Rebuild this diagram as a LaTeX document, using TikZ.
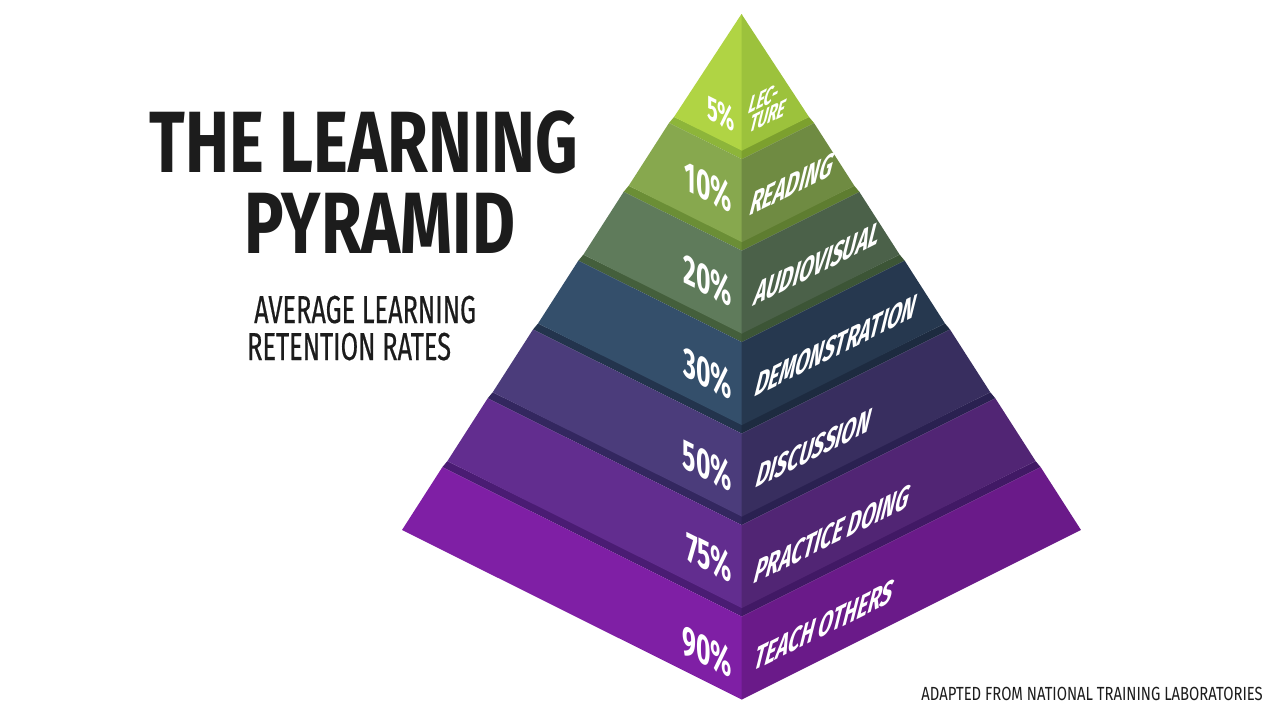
\documentclass[tikz,border=0pt]{standalone}
\usepackage{fontspec}
\newfontfamily\titlefont[FakeStretch=0.76]{Fira Sans}
\newfontfamily\labfont[FakeStretch=0.59]{Fira Sans}
\newfontfamily\subfont[FakeStretch=0.65,FakeBold=0.4]{Fira Sans}
\newfontfamily\srcfont[FakeStretch=0.78]{Fira Sans}
\definecolor{ink}{HTML}{1C1C1C}
\definecolor{LAl}{HTML}{B0D444}\definecolor{LAr}{HTML}{9CC23C}
\definecolor{LBl}{HTML}{87A84E}\definecolor{LBr}{HTML}{6F8B42}
\definecolor{LCl}{HTML}{5F7B5B}\definecolor{LCr}{HTML}{4B6149}
\definecolor{LDl}{HTML}{344F6B}\definecolor{LDr}{HTML}{26384F}
\definecolor{LEl}{HTML}{4B3C7B}\definecolor{LEr}{HTML}{382E5F}
\definecolor{LFl}{HTML}{622D8F}\definecolor{LFr}{HTML}{512574}
\definecolor{LGl}{HTML}{7F1FA5}\definecolor{LGr}{HTML}{6A1A89}
\definecolor{GBl}{HTML}{8DB53A}\definecolor{GBr}{HTML}{7CA02E}
\definecolor{GCl}{HTML}{6B8E36}\definecolor{GCr}{HTML}{5E7D30}
\definecolor{GDl}{HTML}{445F3C}\definecolor{GDr}{HTML}{3C5536}
\definecolor{GEl}{HTML}{23344D}\definecolor{GEr}{HTML}{1D2B40}
\definecolor{GFl}{HTML}{33275F}\definecolor{GFr}{HTML}{2A2151}
\definecolor{GGl}{HTML}{4A1C73}\definecolor{GGr}{HTML}{411965}
\newcommand\pyrlayer[5]{%
  \pgfmathsetmacro\pyYb{117+(#1-1)*68.83}%
  \pgfmathsetmacro\pyRb{67.5+(#1-1)*45.33}%
  \pgfmathsetmacro\pyYbc{\pyYb+0.5*\pyRb}%
  \pgfmathsetmacro\pyYt{\pyYb-62.83}%
  \pgfmathsetmacro\pyRt{\pyRb-40.33}%
  \pgfmathsetmacro\pyYtc{\pyYt+0.5*\pyRt}%
  \pgfmathsetmacro\pyYu{\pyYb-68.83}%
  \pgfmathsetmacro\pyRu{\pyRb-45.33}%
  \pgfmathsetmacro\pyYuc{\pyYu+0.5*\pyRu}%
  \fill[#4] (741.5-\pyRt,\pyYt) -- (742.2,\pyYtc) -- (742.2,\pyYuc-2) -- (741.5-\pyRu,\pyYu) -- cycle;
  \fill[#5] (741.5,\pyYtc) -- (741.5+\pyRt,\pyYt) -- (741.5+\pyRu,\pyYu) -- (741.5,\pyYuc-2) -- cycle;
  \fill[#2] (741.5-\pyRt,\pyYt) -- (742.2,\pyYtc) -- (742.2,\pyYbc) -- (741.5-\pyRb,\pyYb) -- cycle;
  \fill[#3] (741.5,\pyYtc) -- (741.5+\pyRt,\pyYt) -- (741.5+\pyRb,\pyYb) -- (741.5,\pyYbc) -- cycle;
}
\tikzset{
  lnum/.style={font=\labfont\bfseries\fontsize{42}{42}\selectfont, text=white, yslant=-0.5, anchor=base east, inner sep=0pt},
  rlab/.style={font=\labfont\bfseries\fontsize{35}{35}\selectfont, text=white, cm={1,0.5,0.25,1,(0,0)}, anchor=base west, inner sep=0pt},
  title/.style={font=\titlefont\bfseries\fontsize{87}{87}\selectfont, text=ink, anchor=base, inner sep=0pt},
  subt/.style={font=\subfont\fontsize{39}{39}\selectfont, text=ink, anchor=base west, inner sep=0pt},
}
\begin{document}
\begin{tikzpicture}[x=1pt,y=-1pt]
\useasboundingbox[fill=white] (0,0) rectangle (1280,720);
% layers, bottom to top
\pyrlayer{7}{LGl}{LGr}{GGl}{GGr}
\pyrlayer{6}{LFl}{LFr}{GFl}{GFr}
\pyrlayer{5}{LEl}{LEr}{GEl}{GEr}
\pyrlayer{4}{LDl}{LDr}{GDl}{GDr}
\pyrlayer{3}{LCl}{LCr}{GCl}{GCr}
\pyrlayer{2}{LBl}{LBr}{GBl}{GBr}
\fill[LAl] (741.5,14) -- (742.2,14) -- (742.2,150.75) -- (674,117) -- cycle;
\fill[LAr] (741.5,14) -- (741.5,150.75) -- (809,117) -- cycle;
% title
\node[title] (t1) at (364,172) {THE LEARNING};
\node[title] (t2) at (380,253) {PYRAMID};
\node[subt] (s1) at (254,323) {AVERAGE LEARNING};
\node[subt] (s2) at (247,360) {RETENTION RATES};
\node[font=\srcfont\fontsize{19}{19}\selectfont, text=ink, anchor=base east, inner sep=0pt] (src) at (1263,700) {ADAPTED FROM NATIONAL TRAINING LABORATORIES};
% percentages
\node[lnum, font=\labfont\bfseries\fontsize{34}{34}\selectfont] (p1) at (735,132) {5\%};
\node[lnum] (p2) at (732,213) {10\%};
\node[lnum] (p3) at (732,307) {20\%};
\node[lnum] (p4) at (732,400) {30\%};
\node[lnum] (p5) at (732,492) {50\%};
\node[lnum] (p6) at (732,583) {75\%};
\node[lnum] (p7) at (732,678) {90\%};
% names
\node[rlab, font=\labfont\bfseries\fontsize{26}{26}\selectfont] (n1a) at (747,115) {LEC-};
\node[rlab, font=\labfont\bfseries\fontsize{26}{26}\selectfont] (n1b) at (748,134) {TURE};
\node[rlab] (n2) at (748,217) {READING};
\node[rlab] (n3) at (752,307) {AUDIOVISUAL};
\node[rlab] (n4) at (753,398) {DEMONSTRATION};
\node[rlab] (n5) at (754,489) {DISCUSSION};
\node[rlab] (n6) at (752,585) {PRACTICE DOING};
\node[rlab] (n7) at (752,672) {TEACH OTHERS};
\end{tikzpicture}
\end{document}
